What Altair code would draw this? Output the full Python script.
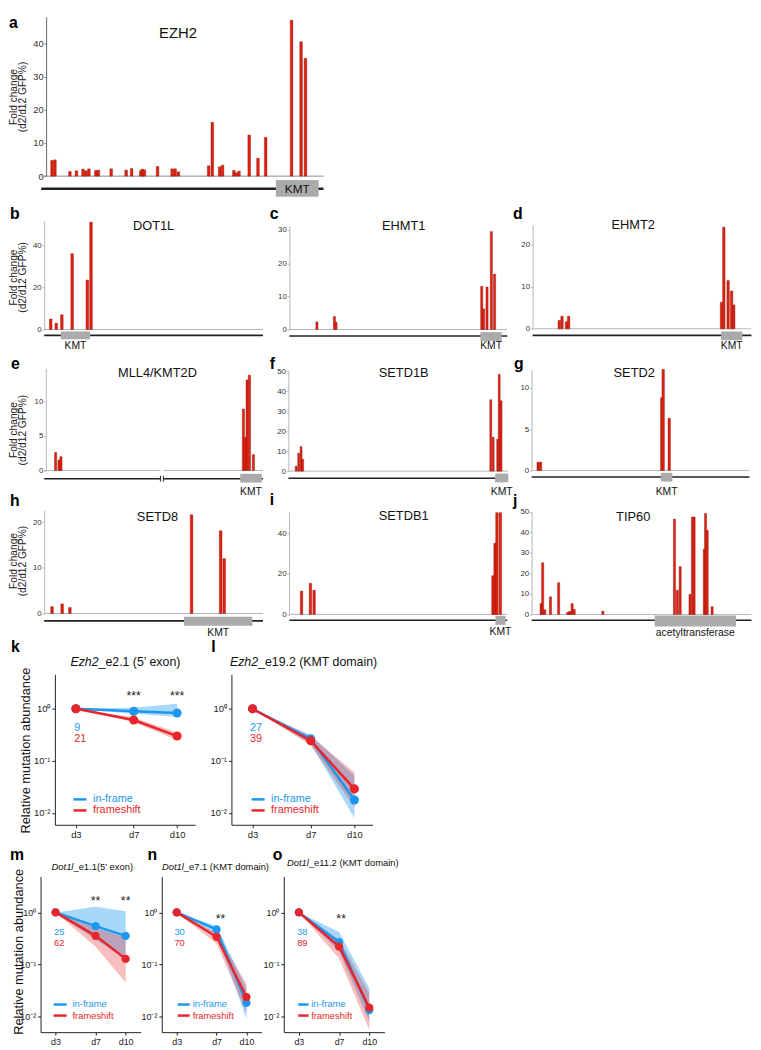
import altair as alt
import pandas as pd

# ------------------------------------------------------------------ data
# a: EZH2 (746 aa) – amino-acid position of each sgRNA and fold change
EZH2_POS = [16, 24, 65, 83, 101, 109, 117, 136, 143, 178, 219, 234, 259, 263, 269, 305,
            345, 353, 362, 445, 455, 475, 483, 514, 521, 528, 556, 580, 601, 672, 698, 710]
EZH2_FC = [4.7, 4.9, 1.4, 1.6, 2.1, 1.6, 2.2, 1.7, 1.8, 2.2, 1.8, 2.3, 1.6, 2.1, 1.9, 2.9,
           2.2, 2.2, 1.3, 3.1, 16.2, 2.8, 3.3, 1.7, 1.0, 1.5, 12.4, 5.4, 11.7, 47.0, 40.5, 35.5]
EZH2_DOM = [620, 733]

DOT1L_POS = [12, 53, 94, 170, 282, 309]
DOT1L_FC = [5.0, 3.0, 7.0, 36.0, 23.5, 51.0]
DOT1L_DOM = [117, 323]

EHMT1_POS = [141, 250, 260, 1168, 1180, 1201, 1228, 1248]
EHMT1_FC = [2.3, 3.9, 2.2, 13.0, 6.2, 12.8, 29.5, 16.7]
EHMT1_DOM = [1137, 1263]

EHMT2_POS = [131, 148, 175, 188, 1112, 1126, 1152, 1173, 1186]
EHMT2_FC = [2.0, 3.0, 1.7, 3.0, 6.3, 24.2, 11.5, 9.0, 5.7]
EHMT2_DOM = [1088, 1211]

MLL4_POS = [175, 267, 317, 5197, 5239, 5297, 5357, 5464]
MLL4_FC = [2.6, 1.5, 2.0, 8.9, 4.8, 13.1, 13.8, 2.3]
MLL4_DOM = [5007, 5556]
MLL4_BREAK = [2969, 3044]

SETD1B_POS = [26, 49, 71, 86, 1809, 1831, 1872, 1886, 1903]
SETD1B_FC = [2.5, 9.0, 12.3, 6.0, 35.8, 17.0, 16.0, 48.5, 35.3]
SETD1B_DOM = [1809, 1923]

SETD2_POS = [20, 49, 1544, 1561, 1636]
SETD2_FC = [1.0, 1.0, 8.8, 12.2, 6.3]
SETD2_DOM = [1521, 1656]

SETD8_POS = [5, 22, 35, 240, 289, 295]
SETD8_FC = [1.5, 2.1, 1.3, 21.6, 18.1, 12.0]
SETD8_DOM = [225, 335]

SETDB1_POS = [45, 100, 123, 1233, 1246, 1258, 1279]
SETDB1_FC = [11.5, 15.3, 11.9, 19.0, 35.0, 50.0, 50.0]
SETDB1_DOM = [1221, 1281]

TIP60_POS = [11, 15, 20, 34, 54, 76, 80, 83, 87, 92, 162, 337, 344, 351, 375, 381, 385,
             410, 413, 417, 429]
TIP60_FC = [5.3, 25.2, 2.3, 8.6, 15.5, 1.0, 1.3, 1.5, 5.3, 2.4, 1.6, 46.5, 11.8, 23.3,
            9.8, 47.5, 47.5, 31.8, 49.2, 41.0, 3.8]
TIP60_DOM = [287, 477]

# k-o: relative mutation abundance (d3, d7, d10)
DAYS = [3, 7, 10]
K_INF, K_INF_LO, K_INF_HI = [1.0, 0.90, 0.83], [1.0, 0.80, 0.70], [1.0, 1.05, 1.25]
K_FS, K_FS_LO, K_FS_HI = [1.0, 0.61, 0.30], [1.0, 0.56, 0.25], [1.0, 0.68, 0.35]
L_INF, L_INF_LO, L_INF_HI = [1.0, 0.265, 0.0177], [1.0, 0.21, 0.008], [1.0, 0.31, 0.052]
L_FS, L_FS_LO, L_FS_HI = [1.0, 0.244, 0.029], [1.0, 0.20, 0.013], [1.0, 0.30, 0.06]
M_INF, M_INF_LO, M_INF_HI = [1.0, 0.546, 0.355], [1.0, 0.30, 0.13], [1.0, 1.28, 1.05]
M_FS, M_FS_LO, M_FS_HI = [1.0, 0.355, 0.128], [1.0, 0.22, 0.045], [1.0, 0.50, 0.33]
N_INF, N_INF_LO, N_INF_HI = [1.0, 0.47, 0.0183], [1.0, 0.38, 0.009], [1.0, 0.55, 0.035]
N_FS, N_FS_LO, N_FS_HI = [1.0, 0.34, 0.0237], [1.0, 0.25, 0.012], [1.0, 0.40, 0.042]
O_INF, O_INF_LO, O_INF_HI = [1.0, 0.27, 0.0133], [1.0, 0.18, 0.008], [1.0, 0.42, 0.035]
O_FS, O_FS_LO, O_FS_HI = [1.0, 0.22, 0.0148], [1.0, 0.13, 0.0055], [1.0, 0.30, 0.028]
COUNTS = {"k": ("9", "21"), "l": ("27", "39"), "m": ("25", "62"), "n": ("30", "70"), "o": ("38", "89")}

# ------------------------------------------------------------------ style / layout
FONT = "Liberation Sans"
W, H = 753, 1042
S = 0.99


def fx(v):
    return round(v * S, 2)


def fy(v):
    return round(v * S, 2)


BAR_RED = "#e3200f"
BAR_EDGE = "#7d1a12"
BLUE = "#1b98ee"
RED = "#e8252b"
DUMMY = pd.DataFrame({"d": [0]})


def txt(s, x, y, size=11, color="#111", weight="normal", style="normal", align="center",
        baseline="middle", angle=0):
    kw = dict(text=s, fontSize=size, color=color, fontWeight=weight, fontStyle=style,
              align=align, baseline=baseline, font=FONT)
    if angle:
        kw["angle"] = angle
    return alt.Chart(DUMMY).mark_text(**kw).encode(x=alt.value(fx(x)), y=alt.value(fy(y)))


def bar_panel(p):
    L = p["L"]
    xs = alt.Scale(domain=[0, L], range=[fx(p["x0"]), fx(p["x1"])], nice=False, zero=False)
    ys = alt.Scale(domain=[0, p["ymax"]], range=[fy(p["y0"]), fy(p["ytop"])], nice=False, zero=False)
    yaxis = alt.Axis(orient="left", offset=-fx(p["ax"]), values=p["ticks"], title=None, grid=False,
                     tickSize=2, tickColor=p["axc"], domainColor=p["axc"], domainWidth=1,
                     labelFontSize=p["lf"], labelColor="#333", labelPadding=1, labelFont=FONT)
    bars_df = pd.DataFrame({"pos": p["pos"], "fc": p["fc"]})
    bars = alt.Chart(bars_df).mark_bar(size=p["bw"], color=BAR_RED, stroke=BAR_EDGE,
                                       strokeWidth=0.4).encode(
        x=alt.X("pos:Q", scale=xs, axis=None),
        y=alt.Y("fc:Q", scale=ys, axis=yaxis))
    segs = p.get("segs", [(0, L)])
    seg_df = pd.DataFrame({"s": [a for a, b in segs], "e": [b for a, b in segs], "z": [0] * len(segs)})
    base = alt.Chart(seg_df).mark_rule(color=p["basec"], strokeWidth=1).encode(
        x=alt.X("s:Q", scale=xs, axis=None), x2="e:Q", y=alt.Y("z:Q", scale=ys, axis=None))
    gene = alt.Chart(seg_df).mark_rule(color="#222", strokeWidth=p["gw"]).encode(
        x=alt.X("s:Q", scale=xs, axis=None), x2="e:Q", y=alt.value(fy(p["gy"])))
    d0, d1 = p["dom"]
    dom_df = pd.DataFrame({"s": [d0], "e": [d1], "m": [(d0 + d1) / 2]})
    box = alt.Chart(dom_df).mark_rect(color="#ababab").encode(
        x=alt.X("s:Q", scale=xs, axis=None), x2="e:Q",
        y=alt.value(fy(p["by"][0])), y2=alt.value(fy(p["by"][1])))
    lab = alt.Chart(dom_df).mark_text(text=p["dom_label"], fontSize=p["dls"], font=FONT,
                                      color="#111").encode(
        x=alt.X("m:Q", scale=xs, axis=None), y=alt.value(fy(p["ly"])))
    layers = [base, gene, box, lab, bars]
    if "brk" in p:
        brk_df = pd.DataFrame({"b": p["brk"]})
        layers.append(alt.Chart(brk_df).mark_rule(color="#222", strokeWidth=1).encode(
            x=alt.X("b:Q", scale=xs, axis=None),
            y=alt.value(fy(p["gy"] - 3)), y2=alt.value(fy(p["gy"] + 3))))
    tx, ty = p["title_xy"]
    layers.append(txt(p["gene"], tx, ty, size=p["ts"], baseline="alphabetic"))
    lx, ly = p["letter_xy"]
    layers.append(txt(p["letter"], lx, ly, size=16, weight="bold", align="left",
                      baseline="alphabetic", color="#000"))
    if "ytitle" in p:
        x1, x2, yc = p["ytitle"]
        layers.append(txt("Fold change", x1, yc, size=10.3, angle=270, color="#222"))
        layers.append(txt("(d2/d12 GFP%)", x2, yc, size=10.3, angle=270, color="#222"))
    return layers


def mut_panel(p):
    xs = alt.Scale(domain=p["dd"], range=[fx(p["x0"]), fx(p["x1"])], nice=False, zero=False)
    ys = alt.Scale(type="log", domain=[p["ylo"], p["yhi"]], range=[fy(p["yb"]), fy(p["yt"])],
                   nice=False)
    xaxis = alt.Axis(orient="bottom", offset=round(fy(p["yb"]) - H, 2), values=DAYS,
                     labelExpr="'d' + datum.value", title=None, grid=False, tickSize=3,
                     tickColor="#222", domainColor="#222", labelColor="#222",
                     labelFontSize=p["tl"], labelFont=FONT, labelPadding=2)
    yaxis = alt.Axis(orient="left", offset=-fx(p["x0"]), values=[0.01, 0.1, 1],
                     labelExpr="datum.value >= 0.5 ? '10⁰' : (datum.value >= 0.05 ? '10⁻¹' : '10⁻²')",
                     title=None, grid=False, tickSize=3, tickColor="#222", domainColor="#222",
                     labelColor="#222", labelFontSize=p["tl"], labelFont=FONT, labelPadding=2)
    inf = pd.DataFrame({"day": DAYS, "v": p["inf"], "lo": p["inf_lo"], "hi": p["inf_hi"]})
    fs = pd.DataFrame({"day": DAYS, "v": p["fs"], "lo": p["fs_lo"], "hi": p["fs_hi"]})

    def X(ax=None):
        return alt.X("day:Q", scale=xs, axis=ax)

    def Y(f, ax=None):
        return alt.Y(f, scale=ys, axis=ax)

    band_b = alt.Chart(inf).mark_area(color=BLUE, opacity=0.38).encode(
        x=X(xaxis), y=Y("lo:Q", yaxis), y2="hi:Q")
    band_r = alt.Chart(fs).mark_area(color=RED, opacity=0.3).encode(
        x=X(), y=Y("lo:Q"), y2="hi:Q")
    line_b = alt.Chart(inf).mark_line(color=BLUE, strokeWidth=2.5).encode(x=X(), y=Y("v:Q"))
    pts_b = alt.Chart(inf).mark_circle(color=BLUE, size=p["ps"], opacity=1).encode(x=X(), y=Y("v:Q"))
    line_r = alt.Chart(fs).mark_line(color=RED, strokeWidth=2.5).encode(x=X(), y=Y("v:Q"))
    pts_r = alt.Chart(fs).mark_circle(color=RED, size=p["ps"], opacity=1).encode(x=X(), y=Y("v:Q"))
    layers = [band_b, band_r, line_b, pts_b, line_r, pts_r]
    if p["stars"]:
        sdf = pd.DataFrame({"day": p["star_days"]})
        layers.append(alt.Chart(sdf).mark_text(text=p["stars"], fontSize=12.5, font=FONT,
                                               color="#222").encode(
            x=X(), y=alt.value(fy(p["star_y"]))))
    c1, c2 = COUNTS[p["letter"]]
    cx, cy1, cy2 = p["count_xy"]
    layers.append(txt(c1, cx, cy1, size=p["fs_"], color=BLUE, align="left"))
    layers.append(txt(c2, cx, cy2, size=p["fs_"], color=RED, align="left"))
    lx0, lx1, ltx, ly1, ly2 = p["leg"]
    for col, yy, name in [(BLUE, ly1, "in-frame"), (RED, ly2, "frameshift")]:
        layers.append(alt.Chart(DUMMY).mark_rule(color=col, strokeWidth=2.5).encode(
            x=alt.value(fx(lx0)), x2=alt.value(fx(lx1)), y=alt.value(fy(yy))))
        layers.append(txt(name, ltx, yy, size=p["fs_"], color=col, align="left"))
    it, rg, sx, ty = p["title"]
    layers.append(txt(it, sx, ty, size=p["tsz"], style="italic", align="right"))
    layers.append(txt(rg, sx, ty, size=p["tsz"], align="left"))
    lx, lyy = p["letter_xy"]
    layers.append(txt(p["letter"], lx, lyy, size=16, weight="bold", align="left",
                      baseline="alphabetic", color="#000"))
    if "ytitle" in p:
        yx, yy = p["ytitle"]
        layers.append(txt("Relative mutation abundance", yx, yy, size=13, angle=270, color="#111"))
    return layers


A_STYLE = dict(axc="#666", basec="#888", lf=9.5)
B_STYLE = dict(axc="#b5b5b5", basec="#b5b5b5", lf=8, gw=1.6, dls=10.5, ts=13)

BAR_PANELS = [
    dict(letter="a", gene="EZH2", pos=EZH2_POS, fc=EZH2_FC, L=746, dom=EZH2_DOM, dom_label="KMT",
         x0=33, x1=322, ax=38, y0=163, ytop=0, ymax=48, ticks=[0, 10, 20, 30, 40],
         gy=176, gw=2.6, by=(167, 184), ly=176, dls=12, bw=2.7, ts=15,
         title_xy=(173, 21.7), letter_xy=(0, 11.7), ytitle=(5, 14.5, 82), **A_STYLE),
    dict(letter="b", gene="DOT1L", pos=DOT1L_POS, fc=DOT1L_FC, L=1540, dom=DOT1L_DOM, dom_label="KMT",
         x0=36, x1=260, ax=36, y0=320, ytop=209, ymax=51.5, ticks=[0, 20, 40],
         gy=326, by=(322, 330), ly=337, bw=2.7, title_xy=(148, 218.3), letter_xy=(1, 206.7),
         ytitle=(5, 14.5, 266.7), **B_STYLE),
    dict(letter="c", gene="EHMT1", pos=EHMT1_POS, fc=EHMT1_FC, L=1296, dom=EHMT1_DOM, dom_label="KMT",
         x0=287, x1=510, ax=287, y0=320, ytop=214, ymax=31.2, ticks=[0, 10, 20, 30],
         gy=326.7, by=(322.7, 331.7), ly=337, bw=2.2, title_xy=(404, 218.3),
         letter_xy=(267, 206.7), **B_STYLE),
    dict(letter="d", gene="EHMT2", pos=EHMT2_POS, fc=EHMT2_FC, L=1263, dom=EHMT2_DOM, dom_label="KMT",
         x0=536, x1=760, ax=536, y0=319.3, ytop=212.7, ymax=24.8, ticks=[0, 10, 20],
         gy=326, by=(322, 331), ly=337, bw=2.5, title_xy=(639, 217.3),
         letter_xy=(516, 206.7), **B_STYLE),
    dict(letter="e", gene="MLL4/KMT2D", pos=MLL4_POS, fc=MLL4_FC, L=5588, dom=MLL4_DOM,
         dom_label="KMT", x0=36, x1=260, ax=37.7, y0=464.3, ytop=360, ymax=14.75, ticks=[0, 5, 10],
         gy=472.7, by=(467.7, 476.7), ly=486, bw=2.3, title_xy=(152, 368.3),
         letter_xy=(2, 360.7), ytitle=(5, 14.5, 423),
         segs=[(0, MLL4_BREAK[0]), (MLL4_BREAK[1], 5588)], brk=MLL4_BREAK, **B_STYLE),
    dict(letter="f", gene="SETD1B", pos=SETD1B_POS, fc=SETD1B_FC, L=1923, dom=SETD1B_DOM,
         dom_label="KMT", x0=286, x1=511, ax=286, y0=465, ytop=362.7, ymax=50.1,
         ticks=[0, 10, 20, 30, 40, 50], gy=472.3, by=(467.5, 476.5), ly=486, bw=2.0,
         title_xy=(404, 368.3), letter_xy=(267, 360.7), **B_STYLE),
    dict(letter="g", gene="SETD2", pos=SETD2_POS, fc=SETD2_FC, L=2564, dom=SETD2_DOM, dom_label="KMT",
         x0=535, x1=758, ax=535, y0=464.3, ytop=360.7, ymax=12.23, ticks=[0, 5, 10],
         gy=471, by=(466.7, 475.7), ly=486, bw=2.5, title_xy=(640, 368.3),
         letter_xy=(517, 360.7), **B_STYLE),
    dict(letter="h", gene="SETD8", pos=SETD8_POS, fc=SETD8_FC, L=352, dom=SETD8_DOM, dom_label="KMT",
         x0=36, x1=260, ax=36, y0=610.7, ytop=505, ymax=22.6, ticks=[0, 10, 20],
         gy=618.3, by=(614, 623.3), ly=631, bw=2.7, title_xy=(152, 516),
         letter_xy=(1, 500.7), ytitle=(5, 14.5, 557), **B_STYLE),
    dict(letter="i", gene="SETDB1", pos=SETDB1_POS, fc=SETDB1_FC, L=1291, dom=SETDB1_DOM,
         dom_label="KMT", x0=287, x1=510, ax=286.7, y0=611.7, ytop=506.7, ymax=50.4,
         ticks=[0, 20, 40], gy=617.7, by=(613.3, 622.3), ly=630, bw=2.5,
         title_xy=(404, 515), letter_xy=(267, 500), **B_STYLE),
    dict(letter="j", gene="TIP60", pos=TIP60_POS, fc=TIP60_FC, L=513, dom=TIP60_DOM,
         dom_label="acetyltransferase", x0=535, x1=760, ax=535, y0=611.7, ytop=506.7, ymax=50,
         ticks=[0, 10, 20, 30, 40, 50], gy=617.7, by=(612.7, 624), ly=631, bw=2.2,
         title_xy=(639, 516), letter_xy=(516, 500.7), **B_STYLE),
]

KL = dict(dd=[1.55, 11.25], yb=827, yt=673, ylo=0.00593, yhi=4.59, tsz=12.5, fs_=11, tl=9.5, ps=85)
MNO = dict(dd=[1.5, 11.5], yb=1039.3, yt=880, ylo=0.00501, yhi=4.88, tsz=9.5, fs_=9.5, tl=9, ps=70)

MUT_PANELS = [
    dict(letter="k", x0=47, x1=190.6, inf=K_INF, inf_lo=K_INF_LO, inf_hi=K_INF_HI,
         fs=K_FS, fs_lo=K_FS_LO, fs_hi=K_FS_HI, stars="***", star_days=[7, 10], star_y=695,
         count_xy=(66.7, 728.3, 739.3), leg=(66, 79.3, 86, 801, 812.3),
         title=("Ezh2", "_e2.1 (5\u2019 exon)", 91.7, 660.7), letter_xy=(2, 650),
         ytitle=(17.3, 751), **KL),
    dict(letter="l", x0=227.7, x1=372.2, inf=L_INF, inf_lo=L_INF_LO, inf_hi=L_INF_HI,
         fs=L_FS, fs_lo=L_FS_LO, fs_hi=L_FS_HI, stars="", star_days=[], star_y=0,
         count_xy=(246.7, 728.3, 739.3), leg=(248.3, 261.7, 268.3, 801, 812.3),
         title=("Ezh2", "_e19.2 (KMT domain)", 255, 660.7), letter_xy=(207, 650), **KL),
    dict(letter="m", x0=32.3, x1=134.8, inf=M_INF, inf_lo=M_INF_LO, inf_hi=M_INF_HI,
         fs=M_FS, fs_lo=M_FS_LO, fs_hi=M_FS_HI, stars="**", star_days=[7, 10], star_y=905,
         count_xy=(46, 936.7, 948.3), leg=(45.7, 59, 65, 1011, 1022.3),
         title=("Dot1l", "_e1.1(5' exon)", 66, 870), letter_xy=(1, 862.7),
         ytitle=(10, 957), **MNO),
    dict(letter="n", x0=156.4, x1=258.4, inf=N_INF, inf_lo=N_INF_LO, inf_hi=N_INF_HI,
         fs=N_FS, fs_lo=N_FS_LO, fs_hi=N_FS_HI, stars="**", star_days=[7.4], star_y=923,
         count_xy=(169.3, 936.7, 948.3), leg=(172.7, 185, 188, 1011, 1022.3),
         title=("Dot1l", "_e7.1 (KMT domain)", 179, 870), letter_xy=(141.7, 862.7), **MNO),
    dict(letter="o", x0=281.3, x1=384.3, inf=O_INF, inf_lo=O_INF_LO, inf_hi=O_INF_HI,
         fs=O_FS, fs_lo=O_FS_LO, fs_hi=O_FS_HI, stars="**", star_days=[7.2], star_y=923,
         count_xy=(295, 936.7, 948.3), leg=(296, 306.7, 309.3, 1011, 1022.3),
         title=("Dot1l", "_e11.2 (KMT domain)", 307, 866), letter_xy=(270, 862.7), **MNO),
]

all_layers = []
for p in BAR_PANELS:
    all_layers += bar_panel(p)
for p in MUT_PANELS:
    all_layers += mut_panel(p)

chart = alt.layer(*all_layers).resolve_scale(x="independent", y="independent").properties(
    width=W, height=H, padding=0, background="white"
).configure_view(stroke=None).configure_axis(labelFont=FONT)

chart.save("out.html", embed_options={"renderer": "svg", "actions": False})
